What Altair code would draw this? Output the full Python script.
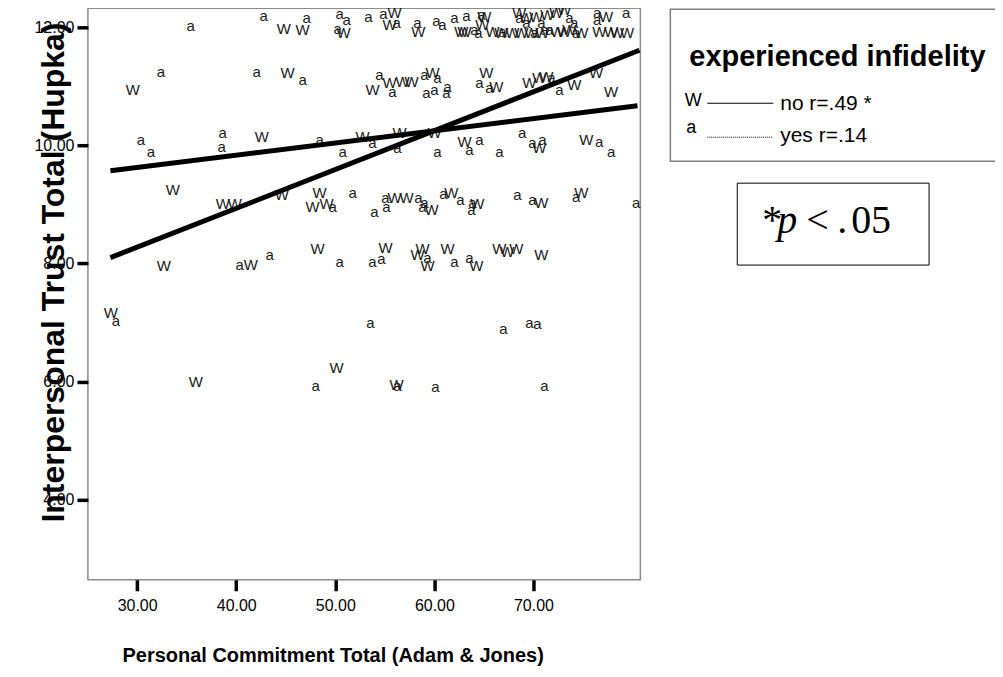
import altair as alt
import pandas as pd

# ---- data ----
# group "no" (marker W)
no_x = [44.79, 46.70, 50.84, 55.47, 55.97, 58.39, 62.73, 63.04, 64.85, 65.05, 65.86, 66.76, 67.87, 68.57, 68.77,
        69.28, 69.79, 70.29, 70.90, 71.40, 72.31, 72.41, 73.11, 73.11, 73.62, 74.82, 76.64, 77.34, 77.84, 78.45, 79.45,
        29.57, 45.19, 53.75, 55.47, 56.78, 57.69, 59.81, 65.25, 66.26, 69.59, 70.60, 71.30, 74.12, 76.33, 77.84,
        42.57, 52.75, 56.48, 60.01, 63.04, 70.60, 75.33,
        33.60, 38.64, 39.85, 44.59, 48.42, 47.71, 49.12, 55.97, 57.18, 59.71, 61.72, 64.34, 70.80, 74.82,
        32.69, 41.46, 48.22, 55.06, 58.29, 58.80, 59.30, 61.32, 64.24, 66.56, 67.37, 68.27, 70.80,
        27.35, 50.13, 35.91, 56.18]
no_y = [11.97, 11.95, 11.90, 12.03, 12.24, 11.92, 11.92, 11.92, 12.03, 12.17, 11.92, 11.90, 11.90, 12.24, 11.90,
        12.15, 11.90, 12.17, 11.90, 12.20, 12.24, 11.92, 12.29, 11.92, 11.95, 11.90, 11.92, 12.17, 11.92, 11.90, 11.90,
        10.94, 11.22, 10.94, 11.05, 11.07, 11.07, 11.22, 11.22, 10.99, 11.05, 11.14, 11.16, 11.02, 11.22, 10.90,
        10.14, 10.14, 10.21, 10.21, 10.06, 9.96, 10.09,
        9.25, 9.00, 9.00, 9.16, 9.20, 8.95, 9.00, 9.11, 9.11, 8.91, 9.20, 9.00, 9.03, 9.20,
        7.95, 7.98, 8.24, 8.27, 8.15, 8.24, 7.95, 8.24, 7.95, 8.24, 8.19, 8.24, 8.15,
        7.17, 6.24, 5.99, 5.94]

# group "yes" (marker a)
yes_x = [35.41, 42.77, 47.10, 50.43, 51.14, 50.23, 53.35, 54.86, 56.18, 58.29, 60.21, 60.82, 62.03, 63.24, 64.75,
         64.04, 64.44, 66.86, 68.57, 69.28, 70.09, 70.80, 71.10, 71.60, 73.62, 74.12, 74.32, 76.43, 76.43, 79.35,
         32.39, 42.07, 46.70, 54.46, 55.77, 59.00, 60.31, 59.20, 60.01, 61.22, 61.32, 64.55, 65.55, 71.81, 72.61,
         30.37, 31.38, 38.64, 38.54, 48.42, 50.73, 53.75, 56.28, 60.31, 63.54, 64.55, 66.56, 68.87, 69.89, 70.90,
         76.64, 77.84,
         49.73, 51.74, 53.95, 55.16, 55.06, 58.39, 59.00, 58.80, 60.92, 62.63, 63.84, 63.74, 68.37, 69.89, 74.32, 80.36,
         40.35, 43.37, 50.43, 53.75, 54.66, 59.30, 62.03, 63.54,
         27.85, 53.55, 66.96, 69.59, 70.39,
         48.01, 56.28, 60.11, 71.10]
yes_y = [12.02, 12.19, 12.15, 12.22, 12.12, 11.97, 12.17, 12.22, 12.07, 12.08, 12.10, 12.03, 12.15, 12.19, 12.20,
         11.95, 11.90, 11.92, 12.15, 12.08, 11.90, 12.07, 11.95, 11.95, 12.15, 12.07, 11.90, 12.24, 12.12, 12.24,
         11.24, 11.24, 11.11, 11.19, 10.90, 11.19, 11.14, 10.89, 10.94, 10.89, 10.99, 11.05, 10.97, 11.14, 10.94,
         10.09, 9.89, 10.21, 9.97, 10.09, 9.89, 10.04, 9.96, 9.89, 9.92, 10.09, 9.89, 10.21, 10.04, 10.09,
         10.06, 9.89,
         8.96, 9.20, 8.88, 8.95, 9.11, 9.11, 9.03, 8.96, 9.18, 9.08, 9.03, 8.91, 9.16, 9.08, 9.13, 9.03,
         7.98, 8.15, 8.03, 8.03, 8.07, 8.10, 8.02, 8.10,
         7.02, 7.00, 6.90, 7.00, 6.97,
         5.92, 5.92, 5.91, 5.92]

# fitted regression lines (end points)
fit_no_x = [27.3, 80.7]
fit_no_y = [8.10, 11.61]
fit_yes_x = [27.3, 80.5]
fit_yes_y = [9.57, 10.67]

x_ticks = [30, 40, 50, 60, 70]
y_ticks = [4, 6, 8, 10, 12]
X_DOMAIN = [25.03, 80.79]
Y_DOMAIN = [2.647, 12.32]

legend_title = "experienced infidelity"
legend_labels = ["no r=.49 *", "yes r=.14"]
legend_symbols = ["W", "a"]

W, H = 553, 572
FONT = "Liberation Sans"
SERIF = "Liberation Serif"

n_no = min(len(no_x), len(no_y))
n_yes = min(len(yes_x), len(yes_y))
pts = pd.DataFrame({
    "x": no_x[:n_no] + yes_x[:n_yes],
    "y": no_y[:n_no] + yes_y[:n_yes],
    "sym": ["W"] * n_no + ["a"] * n_yes,
})
fit = pd.DataFrame({
    "x": fit_no_x + fit_yes_x,
    "y": fit_no_y + fit_yes_y,
    "grp": ["no", "no", "yes", "yes"],
})

xenc = alt.X("x:Q",
             scale=alt.Scale(domain=X_DOMAIN, nice=False, zero=False),
             axis=alt.Axis(values=x_ticks, format=".2f", title="Personal Commitment Total (Adam & Jones)",
                           domain=False, grid=False, tickSize=11, tickWidth=3.5, tickColor="black",
                           labelFont=FONT, labelFontSize=16, labelColor="black", labelPadding=7,
                           titleFont=FONT, titleFontSize=20, titleFontWeight="bold", titleColor="black",
                           titleX=245, titleY=82, titleAlign="center", titleBaseline="alphabetic"))
yenc = alt.Y("y:Q",
             scale=alt.Scale(domain=Y_DOMAIN, nice=False, zero=False),
             axis=alt.Axis(values=y_ticks, format=".2f", title="Interpersonal Trust Total (Hupka)",
                           domain=False, grid=False, tickSize=11, tickWidth=3.5, tickColor="black",
                           labelFont=FONT, labelFontSize=16, labelColor="black", labelPadding=3,
                           titleFont=FONT, titleFontSize=32, titleFontWeight="bold", titleColor="black",
                           titleAngle=270, titleX=-34, titleY=264, titleAlign="center",
                           titleBaseline="middle"))

points = alt.Chart(pts).mark_text(font=FONT, fontSize=15, color="#1a1a1a", baseline="middle").encode(
    x=xenc, y=yenc, text="sym:N")

lines = alt.Chart(fit).mark_line(color="black", strokeWidth=5).encode(
    x=xenc, y=yenc, detail="grp:N")

one = pd.DataFrame({"k": [0]})

legend_box = alt.Chart(one).mark_rect(fill="white", stroke="#808080", strokeWidth=1.5).encode(
    x=alt.value(583), x2=alt.value(910), y=alt.value(1), y2=alt.value(153))
legend_ttl = alt.Chart(one).mark_text(font=FONT, fontSize=29, fontWeight="bold", color="black",
                                      align="left", baseline="alphabetic").encode(
    x=alt.value(602), y=alt.value(58), text=alt.value(legend_title))
sym1 = alt.Chart(one).mark_text(font=FONT, fontSize=18, color="black", baseline="alphabetic").encode(
    x=alt.value(606), y=alt.value(98), text=alt.value(legend_symbols[0]))
sym2 = alt.Chart(one).mark_text(font=FONT, fontSize=18, color="black", baseline="alphabetic").encode(
    x=alt.value(604), y=alt.value(125), text=alt.value(legend_symbols[1]))
rule1 = alt.Chart(one).mark_rule(color="black", strokeWidth=1).encode(
    x=alt.value(620), x2=alt.value(686), y=alt.value(95))
rule2 = alt.Chart(one).mark_rule(color="black", strokeWidth=1, strokeDash=[1, 1]).encode(
    x=alt.value(620), x2=alt.value(686), y=alt.value(129))
lab1 = alt.Chart(one).mark_text(font=FONT, fontSize=21, color="black", align="left", baseline="alphabetic").encode(
    x=alt.value(693), y=alt.value(102), text=alt.value(legend_labels[0]))
lab2 = alt.Chart(one).mark_text(font=FONT, fontSize=21, color="black", align="left", baseline="alphabetic").encode(
    x=alt.value(693), y=alt.value(134), text=alt.value(legend_labels[1]))

pbox = alt.Chart(one).mark_rect(fill="white", stroke="black", strokeWidth=1).encode(
    x=alt.value(650), x2=alt.value(842), y=alt.value(175), y2=alt.value(257))
PY = 225
p_parts = [("*", 675, "normal"), ("p", 690, "italic"), ("<", 719, "normal"), (".", 750, "normal"),
           ("05", 764, "normal")]
p_layers = [
    alt.Chart(one).mark_text(font=SERIF, fontSize=40, fontStyle=sty, color="black", align="left",
                             baseline="alphabetic").encode(x=alt.value(px), y=alt.value(PY), text=alt.value(t))
    for t, px, sty in p_parts
]

chart = alt.layer(points, lines, legend_box, legend_ttl, sym1, sym2, rule1, rule2, lab1, lab2,
                  pbox, *p_layers).properties(
    width=W, height=H,
    autosize=alt.AutoSizeParams(type="none"),
    padding={"left": 80, "top": 0, "right": 355, "bottom": 95},
).configure_view(stroke="#8c8c8c", strokeWidth=1.5)

chart.save("out.html", embed_options={"renderer": "svg", "actions": False})
